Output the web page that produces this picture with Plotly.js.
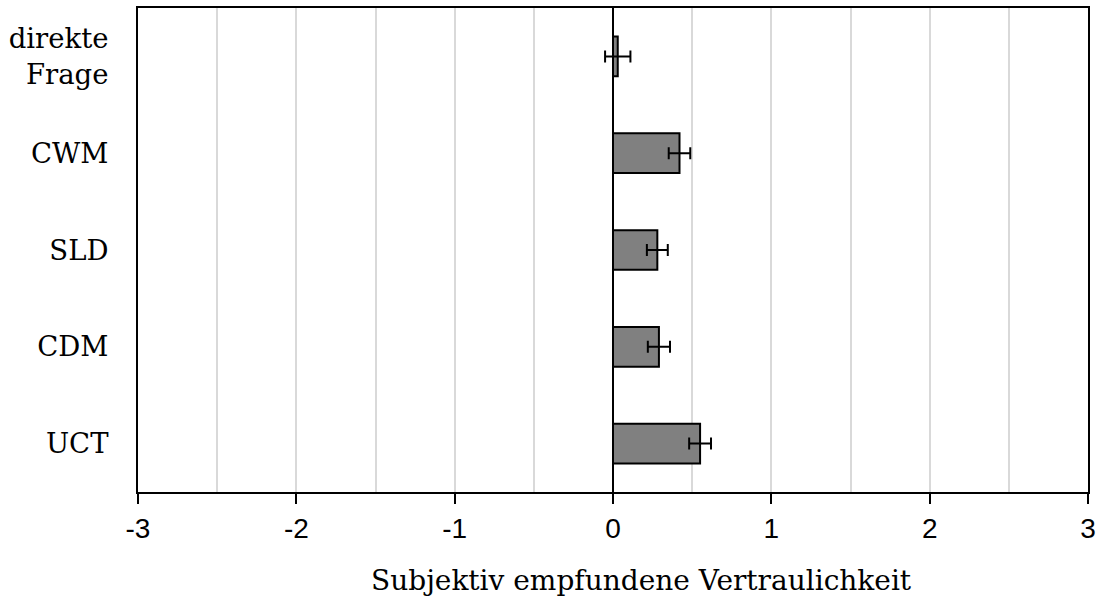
<!DOCTYPE html>
<html>
<head>
<meta charset="utf-8">
<script src="https://cdn.plot.ly/plotly-3.0.1.min.js"></script>
<style>html,body{margin:0;padding:0;background:#fff;}#chart{width:1104px;height:606px;}</style>
</head>
<body>
<div id="chart"></div>
<script>
var categories = ["direkte<br>Frage", "CWM", "SLD", "CDM", "UCT"];
var values = [0.03, 0.42, 0.28, 0.29, 0.55];
var errors = [0.08, 0.068, 0.066, 0.07, 0.069];
var xTickVals = [-3, -2, -1, 0, 1, 2, 3];
var xTickText = ["-3", "-2", "-1", "0", "1", "2", "3"];
var xTitle = 'Subjektiv empfundene Vertraulichkeit';

var trace = {
  type: 'bar',
  orientation: 'h',
  y: categories,
  x: values,
  marker: {color: '#808080', line: {color: '#000000', width: 2}},
  error_x: {type: 'data', array: errors, visible: true, color: '#000000', thickness: 2, width: 6},
  width: 0.41,
  hoverinfo: 'none'
};

var layout = {
  width: 1104, height: 606,
  margin: {l: 138, r: 16, t: 8, b: 114},
  paper_bgcolor: '#ffffff', plot_bgcolor: '#ffffff',
  showlegend: false,
  xaxis: {
    range: [-3, 3],
    tickvals: xTickVals, ticktext: xTickText,
    ticks: 'outside', ticklen: 10, tickwidth: 2, tickcolor: '#000000',
    tickfont: {family: 'Liberation Sans, Arial, sans-serif', size: 28, color: '#000000'},
    showgrid: true, gridcolor: '#d9d9d9', gridwidth: 2,
    minor: {dtick: 0.5, showgrid: true, gridcolor: '#d9d9d9', gridwidth: 2, ticks: ''},
    zeroline: true, zerolinecolor: '#000000', zerolinewidth: 2,
    showline: true, linecolor: '#000000', linewidth: 2, mirror: true,
    fixedrange: true
  },
  yaxis: {
    type: 'category',
    autorange: 'reversed',
    ticks: 'outside', ticklen: 22, tickcolor: 'rgba(0,0,0,0)',
    tickfont: {family: 'DejaVu Serif, Liberation Serif, serif', size: 27.5, color: '#000000'},
    showgrid: false, zeroline: false,
    showline: true, linecolor: '#000000', linewidth: 2, mirror: true,
    fixedrange: true
  },
  annotations: [{
    text: xTitle, xref: 'paper', yref: 'paper', x: 0.5295, y: -0.182,
    xanchor: 'center', yanchor: 'middle', showarrow: false,
    font: {family: 'DejaVu Serif, Liberation Serif, serif', size: 28, color: '#000000'}
  }]
};

Plotly.newPlot('chart', [trace], layout, {displayModeBar: false, staticPlot: true});
</script>
</body>
</html>
